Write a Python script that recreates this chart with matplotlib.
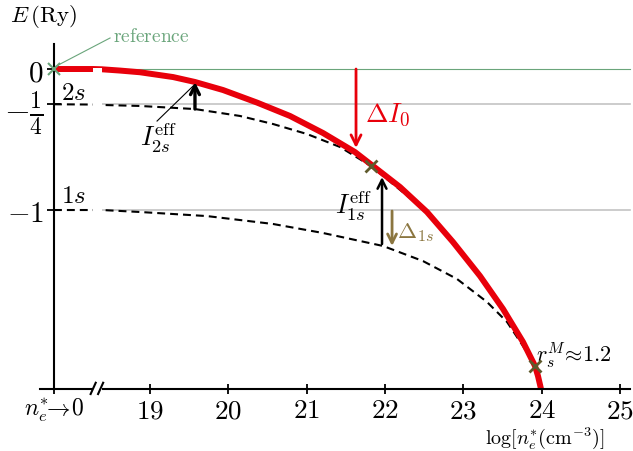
import numpy as np
import matplotlib
matplotlib.use("Agg")
import matplotlib.pyplot as plt
from matplotlib.patches import Rectangle

plt.rcParams['mathtext.fontset'] = 'cm'
plt.rcParams['font.family'] = ['DejaVu Serif']

# ---------------- data ----------------
x_zero = 17.774                     # position of the "n_e -> 0" tick
x_ticks = [19, 20, 21, 22, 23, 24, 25]
x_tick_labels = ['$19$', '$20$', '$21$', '$22$', '$23$', '$24$', '$25$']
zero_tick_label = r'$n_e^{*}\!\!\rightarrow\!0$'
y_ticks = [0, -0.25, -1]
y_tick_labels = [r'$0$', r'$-\frac{1}{4}$', r'$-1$']

# continuum edge (red)
red_x = [17.774, 18.272, 18.387, 18.617, 18.872, 19.294, 19.574, 19.932, 20.366, 20.787,
         21.209, 21.617, 21.847, 22.192, 22.536, 22.868, 23.213, 23.507, 23.762, 23.915,
         23.953, 23.992]
red_y = [0, 0, -0.002, -0.011, -0.023, -0.057, -0.092, -0.149, -0.238, -0.333,
         -0.454, -0.589, -0.688, -0.837, -1.014, -1.227, -1.468, -1.702, -1.936, -2.106,
         -2.177, -2.27]

# 2s level (dashed)
s2_x = [17.774, 18.272, 18.387, 18.872, 19.574, 20.149, 20.570, 21.004, 21.426, 21.821,
        22.102, 22.536, 22.868]
s2_y = [-0.25, -0.252, -0.255, -0.262, -0.284, -0.333, -0.390, -0.461, -0.553, -0.688,
        -0.816, -1.014, -1.241]

# 1s level (dashed)
s1_x = [17.774, 18.272, 18.387, 18.872, 19.728, 20.570, 21.209, 21.975, 22.485, 22.919,
        23.302, 23.558, 23.762, 23.915, 23.953, 23.992]
s1_y = [-1.0, -1.0, -1.0, -1.014, -1.043, -1.099, -1.163, -1.255, -1.362, -1.489,
        -1.652, -1.794, -1.965, -2.106, -2.177, -2.27]

# merge points (Mott points)
cross_x = [21.821, 23.915]
cross_y = [-0.688, -2.106]

# arrows: (x, y_from, y_to)
dI0_arrow = (21.63, 0.0, -0.56)
I2s_arrow = (19.574, -0.284, -0.092)
I1s_arrow = (21.962, -1.241, -0.766)
D1s_arrow = (22.09, -1.007, -1.255)

axis_y = -2.27
break_lo, break_hi = 18.272, 18.387

# ---------------- figure ----------------
fig = plt.figure(figsize=(6.33, 4.52), dpi=100)
ax = fig.add_axes([0, 0, 1, 1])
ax.set_xlim(17.085, 25.166)
ax.set_ylim(-2.709, 0.4965)
ax.patch.set_alpha(0)

red = '#e8000b'
olive = '#5f5a2c'
brown = '#8b7640'
green = '#6aa57b'
gray = '#c4c4c4'

# horizontal reference lines
ax.plot([x_zero, 25.13], [0, 0], color=green, lw=0.8, zorder=1)
for yv in [-0.25, -1]:
    ax.plot([break_hi, 25.13], [yv, yv], color=gray, lw=1.2, zorder=1)

# dashed levels
ax.plot(s2_x, s2_y, color='black', lw=1.5, dashes=(3.8, 2.4), zorder=2)
ax.plot(s1_x, s1_y, color='black', lw=1.5, dashes=(3.8, 2.4), zorder=2)
# red continuum
ax.plot(red_x, red_y, color=red, lw=4.3, solid_capstyle='butt',
        solid_joinstyle='round', zorder=2.2)

# crosses
ax.plot(cross_x, cross_y, ls='none', marker='x', ms=9, mew=2, color=olive, zorder=4)
ax.plot([x_zero], [0], ls='none', marker='x', ms=8, mew=1.5, color=green, zorder=4)

# spines / axes
for s in ['top', 'right']:
    ax.spines[s].set_visible(False)
ax.spines['left'].set_position(('data', x_zero))
ax.spines['left'].set_bounds(axis_y, 0.177)
ax.spines['bottom'].set_position(('data', axis_y))
ax.spines['bottom'].set_bounds(17.6, 25.13)
ax.spines['left'].set_linewidth(1.5)
ax.spines['bottom'].set_linewidth(1.5)

ax.set_xticks([x_zero] + x_ticks)
ax.set_xticklabels([zero_tick_label] + x_tick_labels, fontsize=19.5)
ax.set_yticks(y_ticks)
ax.set_yticklabels(y_tick_labels, fontsize=21)
ax.tick_params(axis='x', direction='inout', length=6.5, width=1.3, pad=2)
ax.tick_params(axis='y', direction='inout', length=10.5, width=1.3, pad=2)
ax.get_xticklabels()[0].set_fontsize(17)
ax.get_yticklabels()[1].set_fontsize(24)

# axis break
ax.add_patch(Rectangle((break_lo, axis_y - 0.05), break_hi - break_lo, 2.33,
                       facecolor='white', edgecolor='none', zorder=3, clip_on=False))
for xb in [break_lo, break_hi - 0.02]:
    ax.plot([xb - 0.03, xb + 0.035], [axis_y - 0.035, axis_y + 0.045], color='black',
            lw=1.5, zorder=4, clip_on=False)

# arrows
def arrow(spec, color, lw, ms=15):
    x, y0, y1 = spec
    ax.annotate('', xy=(x, y1), xytext=(x, y0),
                arrowprops=dict(arrowstyle='->', color=color, lw=lw,
                                shrinkA=0, shrinkB=0, mutation_scale=ms), zorder=5)

arrow(dI0_arrow, red, 2.0, ms=18)
arrow(I2s_arrow, 'black', 2.4, ms=16)
arrow(I1s_arrow, 'black', 1.8, ms=16)
arrow(D1s_arrow, brown, 2.0, ms=16)

# texts
ax.text(43 / 633, 1 - 17 / 452, r'$E\,(\mathrm{Ry})$', transform=ax.transAxes,
        fontsize=16.5, ha='center', va='center')
ax.text(545 / 633, 0.5 / 452, r'$\log[n_e^{*}(\mathrm{cm}^{-3})]$', transform=ax.transAxes,
        fontsize=14.5, ha='center', va='bottom')
ax.text(18.53, 0.234, r'$\mathrm{reference}$', color=green, fontsize=14, ha='left', va='center')
ax.plot([17.80, 18.49], [0.02, 0.22], color=green, lw=0.8, zorder=4)
ax.text(17.87, -0.165, r'$2s$', fontsize=18, ha='left', va='center')
ax.text(17.87, -0.90, r'$1s$', fontsize=18, ha='left', va='center')
ax.text(21.75, -0.319, r'$\Delta I_0$', color=red, fontsize=19.5, ha='left', va='center')
ax.text(19.115, -0.482, r'$I_{2s}^{\mathrm{eff}}$', fontsize=19, ha='center', va='center')
ax.plot([19.09, 19.55], [-0.369, -0.121], color='black', lw=0.8, zorder=4)
ax.text(21.60, -0.965, r'$I_{1s}^{\mathrm{eff}}$', fontsize=19, ha='center', va='center')
ax.text(22.15, -1.156, r'$\Delta_{1s}$', color=brown, fontsize=16.5, ha='left', va='center')
ax.text(23.93, -2.02, r'$r_s^{M}\!\approx\!1.2$', fontsize=16, ha='left', va='center')

fig.savefig('out.png', dpi=100)
